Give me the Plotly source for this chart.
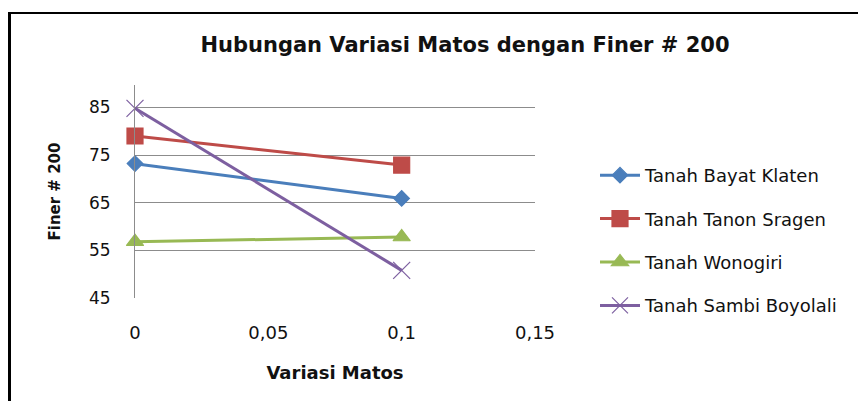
import plotly.graph_objects as go

x_vals = [0, 0.1]
series_names = ["Tanah Bayat Klaten", "Tanah Tanon Sragen", "Tanah Wonogiri", "Tanah Sambi Boyolali"]
bayat = [73.2, 65.9]
tanon = [79.0, 72.9]
wonogiri = [56.8, 57.8]
sambi = [84.8, 50.8]
x_tickvals = [0, 0.05, 0.1, 0.15]
x_ticktext = ["0", "0,05", "0,1", "0,15"]
y_tickvals = [45, 55, 65, 75, 85]

colors = ["#4A7EBB", "#BE4B48", "#98B954", "#7D5FA0"]
symbols = ["diamond", "square", "triangle-up", "x-thin"]
sizes = [12, 16, 15, 17]
data = [bayat, tanon, wonogiri, sambi]

fig = go.Figure()
for i, (name, ys) in enumerate(zip(series_names, data)):
    fig.add_trace(go.Scatter(
        x=x_vals, y=ys, name=name, mode="lines+markers",
        line=dict(color=colors[i], width=3),
        marker=dict(symbol=symbols[i], size=sizes[i], color=colors[i],
                    line=dict(color=colors[i], width=1.2)),
        cliponaxis=False, legendgroup=f"g{i}",
    ))

font = "DejaVu Sans"
fig.update_layout(
    width=866, height=401,
    margin=dict(l=127, r=339, t=77, b=111, autoexpand=False),
    paper_bgcolor="white", plot_bgcolor="white",
    title=dict(text="<b>Hubungan Variasi Matos dengan Finer # 200</b>", x=0.5277, xanchor="center",
               y=0.9077, yanchor="middle", font=dict(family=font, size=21, color="#111")),
    font=dict(family=font, color="#111"),
    legend=dict(x=1.15, y=0.27, xanchor="left", yanchor="middle",
                font=dict(family=font, size=18, color="#111"),
                tracegroupgap=17, itemwidth=40),
    xaxis=dict(range=[0, 0.15], tickvals=x_tickvals, ticktext=x_ticktext,
               showgrid=False, zeroline=False, showline=False,
               ticklabelstandoff=22, tickfont=dict(size=18),
               title=dict(text="<b>Variasi Matos</b>", font=dict(size=18), standoff=24)),
    yaxis=dict(range=[45, 89.7], tickvals=y_tickvals, showgrid=True, gridcolor="#8c8c8c",
               gridwidth=1, zeroline=False, showline=True, linecolor="#8c8c8c",
               ticks="", ticklabelstandoff=20, tickfont=dict(size=17),
               title=dict(text="<b>Finer # 200</b>", font=dict(size=15), standoff=24)),
    shapes=[
        dict(type="line", xref="paper", yref="paper", x0=-0.31375, x1=-0.31375, y0=-0.6, y1=1.338,
             line=dict(color="black", width=3)),
        dict(type="line", xref="paper", yref="paper", x0=-0.3175, x1=2.0, y0=1.338, y1=1.338,
             line=dict(color="black", width=2)),
    ],
)
fig.write_html("out.html")
